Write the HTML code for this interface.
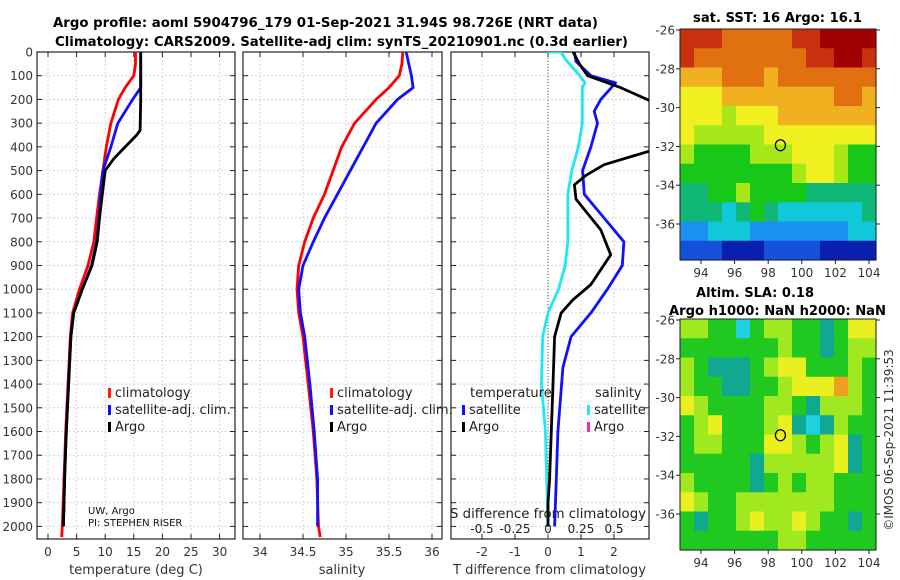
<!DOCTYPE html>
<html><head><meta charset="utf-8"><style>
html,body{margin:0;padding:0;background:#fff;}
svg{display:block;font-family:"DejaVu Sans","Liberation Sans",sans-serif;}
</style></head><body>
<svg id="fig" width="900" height="580" viewBox="0 0 900 580" xmlns="http://www.w3.org/2000/svg">
<text x="53" y="27" textLength="545" lengthAdjust="spacingAndGlyphs" font-size="13" font-weight="bold">Argo profile: aoml 5904796_179 01-Sep-2021 31.94S 98.726E (NRT data)</text>
<text x="55" y="46" textLength="573" lengthAdjust="spacingAndGlyphs" font-size="13" font-weight="bold">Climatology: CARS2009. Satellite-adj clim: synTS_20210901.nc (0.3d earlier)</text>
<text x="693" y="22" textLength="169" lengthAdjust="spacingAndGlyphs" font-size="13" font-weight="bold">sat. SST: 16 Argo: 16.1</text>
<text x="696" y="297" textLength="118" lengthAdjust="spacingAndGlyphs" font-size="13" font-weight="bold">Altim. SLA: 0.18</text>
<text x="669" y="315" textLength="217" lengthAdjust="spacingAndGlyphs" font-size="13" font-weight="bold">Argo h1000: NaN h2000: NaN</text>
<text transform="translate(893,440) rotate(-90)" text-anchor="middle" font-size="12" fill="#333">©IMOS 06-Sep-2021 11:39:53</text>
<g id="plots"></g>
</svg>
<script>
// ---------- data ----------
const depthTicks=[0,100,200,300,400,500,600,700,800,900,1000,1100,1200,1300,1400,1500,1600,1700,1800,1900,2000];
const tempTicks=[0,5,10,15,20,25,30];
const salTicks=[34,34.5,35,35.5,36];
const tdiffTicks=[-2,-1,0,1,2];
const sdiffTicks=[-0.5,-0.25,0,0.25,0.5];
const sdiffTickLabels=["-0.5","-0.25","0","0.25","0.5"];

const climDepth=[0,50,100,150,200,300,400,500,600,700,800,900,1000,1100,1200,1400,1600,1800,2000,2045];
const climTemp=[15.3,15.3,15.0,13.5,12.3,11.0,10.2,9.6,9.0,8.5,8.0,7.0,5.5,4.3,3.9,3.5,3.1,2.8,2.5,2.4];
const climSal=[35.66,35.65,35.62,35.5,35.35,35.1,34.95,34.85,34.75,34.62,34.52,34.45,34.43,34.45,34.5,34.56,34.62,34.66,34.68,34.7];

const satDepth=[0,50,100,150,200,300,400,500,600,700,800,900,1000,1100,1200,1400,1600,1800,2000];
const satTemp=[16.2,16.2,16.2,16.2,14.8,12.2,11.0,9.6,9.2,8.9,8.5,7.6,6.0,4.5,4.0,3.6,3.2,2.9,2.7];
const satSal=[35.7,35.73,35.76,35.78,35.6,35.35,35.2,35.05,34.9,34.75,34.62,34.5,34.45,34.47,34.52,34.58,34.63,34.67,34.67];

const argoDepth=[0,100,200,330,350,400,450,500,600,700,800,900,1000,1100,1200,1400,1600,1800,2000];
const argoTemp=[16.2,16.2,16.2,16.1,15.5,13.5,11.5,10.0,9.5,9.0,8.6,7.7,6.0,4.5,4.0,3.6,3.2,2.9,2.7];

const tdArgoDepth=[0,50,100,150,200,300,400,475,520,560,620,750,855,980,1045,1100,1200,1400,1600,1800,1900,2000];
const tdArgo=[0.76,0.95,1.2,2.2,3.0,5.0,3.5,1.7,1.15,0.8,0.85,1.6,1.9,1.3,0.75,0.4,0.2,0.15,0.1,0.05,0,0];
const tdSatDepth=[0,40,100,130,200,250,300,400,500,600,700,800,900,1000,1100,1200,1330,1600,1800,2000];
const tdSat=[0.8,0.85,1.3,2.05,1.6,1.4,1.5,1.3,1.05,1.1,1.7,2.3,2.25,1.8,1.3,0.7,0.45,0.3,0.25,0.2];
const sdSatDepth=[0,1,30,100,130,150,200,300,400,500,600,700,800,900,1000,1100,1200,1400,1600,1800,2000];
const sdSat=[0,0.1,0.13,0.24,0.28,0.26,0.26,0.26,0.23,0.18,0.15,0.15,0.15,0.13,0.08,0,-0.04,-0.05,-0.02,-0.01,0];

const mapLonTicks=[94,96,98,100,102,104];
const mapLatTicks=[-26,-28,-30,-32,-34,-36];
const argoLon=98.726, argoLat=-31.94;
const sstGrid=[
[10,10,10,9,9,9,9,9,10,10,11,11,11,11],
[10,9,9,9,9,9,9,9,9,10,10,11,11,10],
[8,8,8,9,9,9,8,9,9,9,9,9,9,9],
[7,7,7,8,8,8,8,8,8,8,8,9,9,8],
[7,7,7,6,7,7,7,8,8,8,8,8,8,8],
[7,6,6,6,6,6,7,7,7,7,7,7,7,7],
[6,5,5,5,5,6,6,6,7,7,7,6,5,5],
[5,5,5,5,5,5,5,5,6,7,7,6,5,5],
[4,4,5,5,6,5,5,5,5,4,4,4,4,4],
[4,4,4,3,4,5,4,3,3,3,3,3,3,4],
[2,2,3,3,3,2,2,2,2,2,2,2,3,3],
[1,1,1,0,0,0,1,1,1,1,0,0,0,0]];
const slaGrid=[
[6,6,5,5,3,5,6,6,5,5,4,5,7,7],
[5,5,5,5,5,5,5,6,5,5,4,5,6,6],
[6,5,4,4,4,5,6,7,7,5,5,5,6,5],
[6,5,5,4,4,5,5,6,7,7,7,8,6,5],
[7,6,5,5,5,5,6,6,5,4,6,6,6,5],
[5,6,7,5,5,5,6,7,4,3,4,6,5,5],
[5,6,6,5,5,5,7,7,6,5,6,7,4,5],
[5,5,5,5,5,4,6,6,6,6,6,7,4,5],
[6,5,5,5,5,4,5,6,5,6,6,5,5,5],
[7,6,5,5,6,6,6,6,6,6,6,5,5,5],
[5,4,5,5,6,7,6,6,7,6,5,5,4,5],
[5,5,5,5,5,5,5,6,6,5,5,5,5,5]];
const sstColors=["#0a1fb0","#1450d8","#1a90f0","#10c8d8","#10b878","#18c818","#a8e818","#f0f020","#f0b020","#e07010","#c83010","#a00000"];
const slaColors=["#1450d8","#1a90f0","#10c8d8","#20d0e0","#10a890","#20c820","#a0e820","#e8f020","#f0a020"];

// ---------- helpers ----------
const NS="http://www.w3.org/2000/svg";
const root=document.getElementById('plots');
function mk(tag,attrs,parent){const e=document.createElementNS(NS,tag);for(const k in attrs)e.setAttribute(k,attrs[k]);(parent||root).appendChild(e);return e;}
function txt(s,attrs,parent){const e=mk('text',attrs,parent);e.textContent=s;return e;}

const Y0=52, Y1=539;
const yD=d=>52+d*0.2372;
function lineXY(xs,ys,fx,fy){return xs.map((v,i)=>fx(v).toFixed(1)+','+fy(ys[i]).toFixed(1)).join(' ');}

function panel(name,x0,x1,fx,xt,xtl,showYLabels){
  const g=mk('g',{});
  
  
  const cid='clip-'+name;
  const cp=mk('clipPath',{id:cid},g);mk('rect',{x:x0,y:Y0,width:x1-x0,height:Y1-Y0},cp);
  depthTicks.forEach(d=>{
    const gl=mk('line',{x1:x0,x2:x1,y1:yD(d),y2:yD(d),stroke:'#c8c8e8','stroke-width':0.8,'stroke-dasharray':'2,2'},g);
    
    
    mk('line',{x1:x0,x2:x0+5,y1:yD(d),y2:yD(d),stroke:'#222'},g);
    mk('line',{x1:x1-5,x2:x1,y1:yD(d),y2:yD(d),stroke:'#222'},g);
    if(showYLabels){const t=txt(String(d),{x:x0-4,y:yD(d)+4.5,'text-anchor':'end','font-size':12,fill:'#333'},g);
      
      }
  });
  xt.forEach((v,i)=>{
    mk('line',{x1:fx(v),x2:fx(v),y1:Y0,y2:Y1,stroke:'#e0c0d0','stroke-width':0.8,'stroke-dasharray':'2,2'},g);
    mk('line',{x1:fx(v),x2:fx(v),y1:Y1,y2:Y1-5,stroke:'#222'},g);
    mk('line',{x1:fx(v),x2:fx(v),y1:Y0,y2:Y0+5,stroke:'#222'},g);
    const t=txt(xtl[i],{x:fx(v),y:556,'text-anchor':'middle','font-size':12,fill:'#333'},g);
    
    
  });
  mk('rect',{x:x0,y:Y0,width:x1-x0,height:Y1-Y0,fill:'none',stroke:'#222','stroke-width':1.2},g);
  return {g,clip:'url(#'+cid+')'};
}
function series(p,name,xs,ys,fx,color){
  const l=mk('polyline',{points:lineXY(xs,ys,fx,yD),fill:'none',stroke:color,'stroke-width':2.8,'clip-path':p.clip,'stroke-linejoin':'round'},p.g);
  
  
}
function legendEntry(g,x,y,color,label,name){
  const e=mk('g',{},g);
  
  
  mk('rect',{x:x,y:y-9,width:3,height:10,fill:color},e);
  txt(label,{x:x+7,y:y,'font-size':13,fill:'#222'},e);
}

// ---------- panel 1: temperature ----------
const fT=v=>48+v*5.72;
const p1=panel('temperature-panel',37,235,fT,tempTicks,tempTicks.map(String),true);
series(p1,'temp-climatology-line',climTemp,climDepth,fT,'#ff0000');
series(p1,'temp-satellite-line',satTemp,satDepth,fT,'#1010ff');
series(p1,'temp-argo-line',argoTemp,argoDepth,fT,'#000');
legendEntry(p1.g,108,397,'#ff2000','climatology','legend-climatology');
legendEntry(p1.g,108,414,'#1010ff','satellite-adj. clim.','legend-satellite-adj');
legendEntry(p1.g,108,431,'#000','Argo','legend-argo');
txt('UW, Argo',{x:88,y:514,'font-size':10,fill:'#111'},p1.g);
txt('PI: STEPHEN RISER',{x:88,y:526,'font-size':10,fill:'#111'},p1.g);
txt('temperature (deg C)',{x:136,y:574,'text-anchor':'middle','font-size':13,fill:'#333'},p1.g);

// ---------- panel 2: salinity ----------
const fS=v=>260+(v-34)*86;
const p2=panel('salinity-panel',243,442,fS,salTicks,salTicks.map(String),false);
series(p2,'sal-climatology-line',climSal,climDepth,fS,'#ff0000');
series(p2,'sal-satellite-line',satSal,satDepth,fS,'#1010ff');
legendEntry(p2.g,330,397,'#ff2000','climatology','legend-sal-climatology');
legendEntry(p2.g,330,414,'#1010ff','satellite-adj. clim.','legend-sal-satellite-adj');
legendEntry(p2.g,330,431,'#000','Argo','legend-sal-argo');
txt('salinity',{x:342,y:574,'text-anchor':'middle','font-size':13,fill:'#333'},p2.g);

// ---------- panel 3: differences ----------
const fTD=v=>548+v*33;
const fSD=v=>548+v*132;
const p3=panel('difference-panel',451,649,fTD,tdiffTicks,tdiffTicks.map(String),false);
mk('line',{x1:fTD(0),x2:fTD(0),y1:Y0,y2:Y1,stroke:'#556b2f','stroke-width':1,'stroke-dasharray':'1,2'},p3.g);
series(p3,'sdiff-satellite-line',sdSat,sdSatDepth,fSD,'#20e8f0');
series(p3,'tdiff-satellite-line',tdSat,tdSatDepth,fTD,'#1010ff');
series(p3,'tdiff-argo-line',tdArgo,tdArgoDepth,fTD,'#000');
txt('temperature',{x:470,y:397,'font-size':13,fill:'#222'},p3.g);
txt('salinity',{x:595,y:397,'font-size':13,fill:'#222'},p3.g);
legendEntry(p3.g,462,414,'#1010ff','satellite','legend-tdiff-satellite');
legendEntry(p3.g,462,431,'#000','Argo','legend-tdiff-argo');
legendEntry(p3.g,587,414,'#20e8f0','satellite','legend-sdiff-satellite');
legendEntry(p3.g,587,431,'#ff20d0','Argo','legend-sdiff-argo');
txt('S difference from climatology',{x:450,y:518,'textLength':196,'lengthAdjust':'spacingAndGlyphs','font-size':13,fill:'#222'},p3.g);
sdiffTicks.forEach((v,i)=>{
  const t=txt(sdiffTickLabels[i],{x:fSD(v),y:533,'text-anchor':'middle','font-size':12,fill:'#222'},p3.g);
  
  
});
txt('T difference from climatology',{x:453,y:574,'textLength':193,'lengthAdjust':'spacingAndGlyphs','font-size':13,fill:'#333'},p3.g);

// ---------- maps ----------
function map(name,top,grid,colors){
  const g=mk('g',{});
  
  
  const L=680,R=876,H=231,W=R-L;
  const fx=lon=>701+(lon-94)*16.8;
  const fy=lat=>top+1+(-26-lat)*19.4;
  const rows=grid.length, cols=grid[0].length;
  grid.forEach((row,r)=>row.forEach((v,c)=>{
    const cell=mk('rect',{x:(L+c*W/cols).toFixed(2),y:(top+r*H/rows).toFixed(2),width:(W/cols+0.6).toFixed(2),height:(H/rows+0.6).toFixed(2),fill:colors[v]},g);
    
    
  }));
  mk('rect',{x:L,y:top,width:W,height:H,fill:'none',stroke:'#222','stroke-width':1},g);
  mapLonTicks.forEach(v=>{
    mk('line',{x1:fx(v),x2:fx(v),y1:top+H,y2:top+H+4,stroke:'#222'},g);
    txt(String(v),{x:fx(v),y:top+H+17,'text-anchor':'middle','font-size':12,fill:'#333'},g);
  });
  mapLatTicks.forEach(v=>{
    mk('line',{x1:L-4,x2:L,y1:fy(v),y2:fy(v),stroke:'#222'},g);
    mk('line',{x1:R,x2:R+4,y1:fy(v),y2:fy(v),stroke:'#222'},g);
    txt(String(v),{x:L-5,y:fy(v)+4.5,'text-anchor':'end','font-size':12,fill:'#333'},g);
  });
  const c=mk('ellipse',{cx:fx(argoLon),cy:fy(argoLat),rx:5,ry:5.5,fill:'none',stroke:'#000','stroke-width':1.3},g);
  
  
}
map('sst-map',29,sstGrid,sstColors);
map('sla-map',319,slaGrid,slaColors);
</script>
</body></html>
